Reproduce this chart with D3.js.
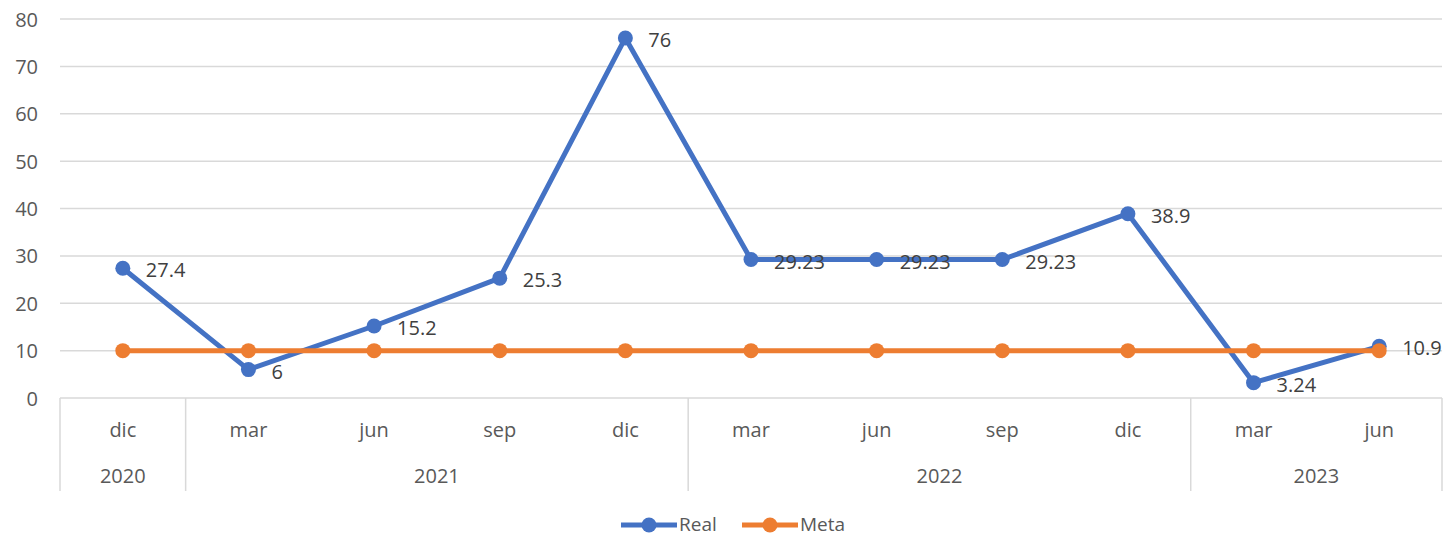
<!DOCTYPE html>
<html><head><meta charset="utf-8">
<script src="https://cdn.jsdelivr.net/npm/d3@7"></script>
<style>
html,body{margin:0;padding:0;background:#fff;}
svg text{font-family:"Open Sans","Noto Sans",sans-serif;}
</style></head>
<body>
<svg id="chart" width="1445" height="537"></svg>
<script>
const months = ["dic","mar","jun","sep","dic","mar","jun","sep","dic","mar","jun"];
const years = ["2020","2021","2022","2023"];
const yearSpans = [1,4,4,2];
const realValues = [27.4,6,15.2,25.3,76,29.23,29.23,29.23,38.9,3.24,10.9];
const metaValues = [10,10,10,10,10,10,10,10,10,10,10];
const yTicks = [0,10,20,30,40,50,60,70,80];
const seriesNames = ["Real","Meta"];
const seriesColors = ["#4472C4","#ED7D31"];

(function(){
const svg = d3.select("#chart");
const pLeft = 60, pRight = 1442, pTop = 19, pBottom = 398, axisBottom = 491;
const fs = "20px";
const x = d3.scaleBand().domain(d3.range(months.length)).range([pLeft,pRight]).paddingInner(0).paddingOuter(0);
const y = d3.scaleLinear().domain([0,80]).range([pBottom,pTop]);
const cx = i => x(i) + x.bandwidth()/2;

// gridlines
svg.append("g").selectAll("line").data(yTicks).join("line")
  .attr("x1",pLeft).attr("x2",pRight)
  .attr("y1",d=>y(d)).attr("y2",d=>y(d))
  .attr("stroke","#d9d9d9").attr("stroke-width",1.5);

// y axis labels
const yAxis = d3.axisLeft(y).tickValues(yTicks).tickSize(0).tickPadding(0);
const yg = svg.append("g").attr("transform",`translate(38,0)`).call(yAxis);
yg.select(".domain").remove();
yg.selectAll("text").attr("fill","#595959").style("font-size",fs).style("font-family",'"Open Sans","Noto Sans",sans-serif').attr("dy","0.35em");

// category axis boxes
let starts = [0]; yearSpans.forEach((s,i)=>starts.push(starts[i]+s));
const bounds = starts.map(i => i < months.length ? x(i) : pRight);
svg.append("g").selectAll("line").data(bounds).join("line")
  .attr("x1",d=>d).attr("x2",d=>d).attr("y1",pBottom).attr("y2",axisBottom)
  .attr("stroke","#d9d9d9").attr("stroke-width",1.5);

svg.append("g").selectAll("text").data(months).join("text")
  .attr("x",(d,i)=>cx(i)).attr("y",430).attr("dy","0.35em")
  .attr("text-anchor","middle").attr("fill","#595959").style("font-size",fs)
  .text(d=>d);

svg.append("g").selectAll("text").data(years).join("text")
  .attr("x",(d,i)=>(bounds[i]+bounds[i+1])/2).attr("y",476).attr("dy","0.35em")
  .attr("text-anchor","middle").attr("fill","#595959").style("font-size",fs)
  .text(d=>d);

// lines
const line = d3.line().x((d,i)=>cx(i)).y(d=>y(d));
const series = [realValues, metaValues];
series.forEach((vals,si)=>{
  const g = svg.append("g");
  g.append("path").datum(vals).attr("d",line).attr("fill","none")
    .attr("stroke",seriesColors[si]).attr("stroke-width",5).attr("stroke-linejoin","round");
  g.selectAll("circle").data(vals).join("circle")
    .attr("cx",(d,i)=>cx(i)).attr("cy",d=>y(d)).attr("r",7.5)
    .attr("fill",seriesColors[si]);
});

// data labels for Real
svg.append("g").selectAll("text").data(realValues).join("text")
  .attr("x",(d,i)=>cx(i)+23).attr("y",d=>y(d)+2).attr("dy","0.35em")
  .attr("fill","#404040").style("font-size",fs)
  .text(d=>d);

// legend
const legendX = [621, 742];
const lg = svg.append("g");
seriesNames.forEach((n,i)=>{
  const lx = legendX[i];
  lg.append("line").attr("x1",lx).attr("x2",lx+56).attr("y1",525).attr("y2",525)
    .attr("stroke",seriesColors[i]).attr("stroke-width",5);
  lg.append("circle").attr("cx",lx+28).attr("cy",525).attr("r",7.5).attr("fill",seriesColors[i]);
  lg.append("text").attr("x",lx+58).attr("y",524).attr("dy","0.35em")
    .attr("fill","#595959").style("font-size","19px").text(n);
});
})();
</script>
</body></html>
